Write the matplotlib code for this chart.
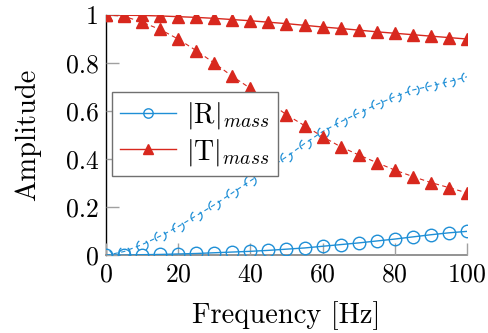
import numpy as np
import matplotlib
matplotlib.use("Agg")
import matplotlib.pyplot as plt
from matplotlib.path import Path

plt.rcParams['font.family'] = ['cmr10', 'DejaVu Serif']
plt.rcParams['mathtext.fontset'] = 'cm'
plt.rcParams['axes.formatter.use_mathtext'] = True

# frequency samples [Hz]
freq = [0, 5, 10, 15, 20, 25, 30, 35, 40, 45, 50, 55, 60, 65, 70, 75, 80, 85, 90, 95, 100]

# |R| mass (solid) and its dashed companion
r_mass = [0.0, 0.001, 0.003, 0.004, 0.006, 0.008, 0.011, 0.014, 0.017, 0.021, 0.026, 0.031,
          0.038, 0.045, 0.052, 0.06, 0.068, 0.077, 0.086, 0.094, 0.1]
r_dash = [0.0, 0.016, 0.045, 0.08, 0.12, 0.165, 0.21, 0.26, 0.31, 0.36, 0.41, 0.465,
          0.515, 0.556, 0.592, 0.628, 0.66, 0.688, 0.705, 0.723, 0.743]

# |T| mass (solid) and its dashed companion
t_mass = [1.0, 0.999, 0.998, 0.996, 0.993, 0.99, 0.986, 0.981, 0.976, 0.97, 0.964, 0.957,
          0.95, 0.944, 0.937, 0.93, 0.924, 0.918, 0.912, 0.906, 0.90]
t_dash = [1.0, 0.995, 0.97, 0.94, 0.90, 0.852, 0.80, 0.745, 0.695, 0.64, 0.585, 0.54,
          0.494, 0.452, 0.418, 0.386, 0.355, 0.328, 0.303, 0.282, 0.26]

blue = '#1f8fd6'
red = '#d8281e'

# circle drawn with a dash pattern -> two arcs
left = Path.arc(125, 235)
right = Path.arc(-55, 55)
dash_circle = Path.make_compound_path(left, right)

fig = plt.figure(figsize=(4.88, 3.33), dpi=100)
ax = fig.add_axes([0.217, 0.233, 0.740, 0.722])

ax.plot(freq, r_dash, color=blue, lw=0.8, ls=(0, (4, 3)), marker=dash_circle,
        ms=8, mfc='none', mec=blue, mew=0.9)
ax.plot(freq, t_dash, color=red, lw=0.8, ls=(0, (4, 3)), marker='^',
        ms=9, mfc=red, mec=red)
ax.plot(freq, r_mass, color=blue, lw=1.0, marker='o', ms=9, mfc='none', mec=blue,
        mew=1.0, label=r'$|\mathrm{R}|_{mass}$')
ax.plot(freq, t_mass, color=red, lw=1.0, marker='^', ms=9, mfc=red, mec=red,
        label=r'$|\mathrm{T}|_{mass}$')

ax.set_xlim(0, 100)
ax.set_ylim(0, 1)
ax.set_xticks([0, 20, 40, 60, 80, 100])
ax.set_yticks([0, 0.2, 0.4, 0.6, 0.8, 1])
ax.set_yticklabels(['0', '0.2', '0.4', '0.6', '0.8', '1'])
ax.tick_params(direction='in', length=9, width=1, color='#a0a0a0', labelsize=18.5, pad=5)
ax.spines['top'].set_visible(False)
ax.spines['right'].set_visible(False)
ax.spines['left'].set_color('black')
ax.spines['bottom'].set_color('#808080')
ax.spines['left'].set_linewidth(1.0)
ax.spines['bottom'].set_linewidth(1.2)
for sp in ax.spines.values():
    sp.set_zorder(0.5)

ax.set_xlabel('Frequency [Hz]', fontsize=20.5, labelpad=11)
ax.set_ylabel('Amplitude', fontsize=20.5, labelpad=18)

leg = ax.legend(loc='upper left', bbox_to_anchor=(0.017, 0.681), fontsize=20,
                frameon=True, fancybox=False, edgecolor='#707070', framealpha=1,
                handlelength=2.0, borderpad=0.3, labelspacing=0.2, handletextpad=0.35,
                borderaxespad=0, markerscale=0.75)
leg.get_frame().set_linewidth(1.0)

fig.savefig('out.png', dpi=100)
